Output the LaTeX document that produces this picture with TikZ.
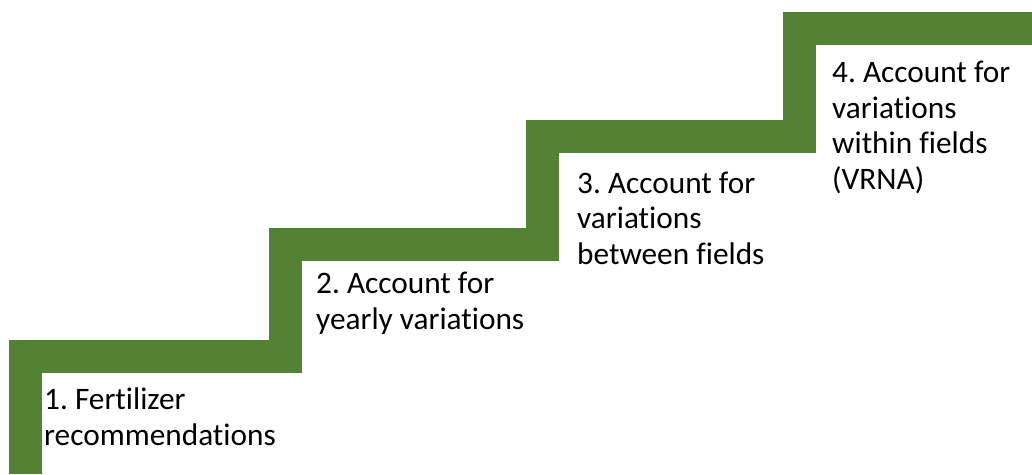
\documentclass[tikz,border=0pt]{standalone}
\usepackage{fontspec}
\setmainfont[Ligatures=NoCommon]{Carlito}
\usetikzlibrary{positioning}
\frenchspacing

\definecolor{stairgreen}{RGB}{84,130,53}

\begin{document}
\begin{tikzpicture}[
    x=1pt, y=-1pt,
    stair/.style={
        draw=stairgreen, line width=33pt, line join=miter
    },
    steplabel/.style={
        font=\fontsize{31.3}{35.5}\selectfont, align=left,
        anchor=base west, inner sep=0pt, text=black
    }
]
\useasboundingbox (0,0) rectangle (1032,474);

% --- Staircase ---
\draw[stair] (25,474) |- (285,356.5) |- (542,244) |- (799,136.5) |- (1032,28);

% --- Step labels (anchored at the last line) ---
\node[steplabel] (s1) at (44,445) {1. Fertilizer\\recommendations};
\node[steplabel] (s2) at (316,329) {2. Account for\\yearly variations};
\node[steplabel] (s3) at (577,264) {3. Account for\\variations\\between fields};
\node[steplabel] (s4) at (832,189) {4. Account for\\variations\\within fields\\(VRNA)};

\end{tikzpicture}
\end{document}
